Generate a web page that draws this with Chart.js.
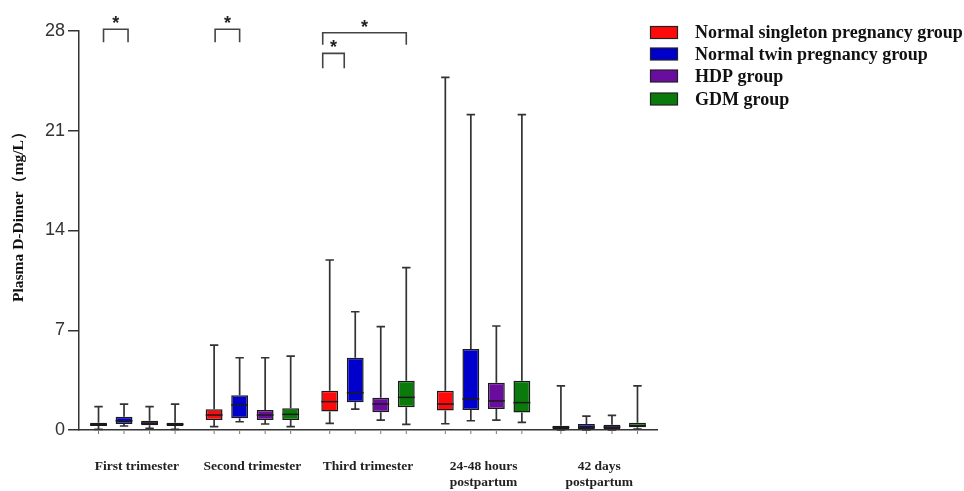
<!DOCTYPE html>
<html><head><meta charset="utf-8">
<script src="https://cdn.jsdelivr.net/npm/chart.js@4.4.1/dist/chart.umd.min.js"></script>
<style>html,body{margin:0;padding:0;background:#fff}#wrap{width:964px;height:491px;position:relative}</style>
</head><body><div id="wrap"><canvas id="c" width="964" height="491"></canvas></div>
<script>
// ---- data ----
const categories = ["First trimester", "Second trimester", "Third trimester", ["24-48 hours", "postpartum"], ["42 days", "postpartum"]];
const groups = ["Normal singleton pregnancy group", "Normal twin pregnancy group", "HDP group", "GDM group"];
const yTicks = [0, 7, 14, 21, 28];

const singletonMin = [0.05, 0.23, 0.47, 0.44, 0.00];
const singletonQ1  = [0.28, 0.70, 1.29, 1.36, 0.07];
const singletonMed = [0.38, 1.05, 1.99, 1.82, 0.18];
const singletonQ3  = [0.51, 1.45, 2.76, 2.76, 0.30];
const singletonMax = [1.64, 5.96, 11.93, 24.75, 3.09];

const twinMin = [0.28, 0.58, 1.47, 0.65, 0.00];
const twinQ1  = [0.42, 0.82, 1.94, 1.40, 0.07];
const twinMed = [0.65, 1.75, 2.62, 2.18, 0.20];
const twinQ3  = [0.93, 2.43, 5.07, 5.68, 0.42];
const twinMax = [1.82, 5.07, 8.30, 22.13, 0.98];

const hdpMin = [0.12, 0.42, 0.70, 0.70, 0.00];
const hdpQ1  = [0.33, 0.70, 1.24, 1.47, 0.07];
const hdpMed = [0.48, 1.05, 1.82, 2.04, 0.20];
const hdpQ3  = [0.65, 1.40, 2.27, 3.32, 0.37];
const hdpMax = [1.64, 5.07, 7.25, 7.30, 1.03];

const gdmMin = [0.05, 0.23, 0.40, 0.54, 0.07];
const gdmQ1  = [0.28, 0.70, 1.59, 1.22, 0.19];
const gdmMed = [0.40, 1.10, 2.29, 1.92, 0.30];
const gdmQ3  = [0.51, 1.52, 3.46, 3.46, 0.51];
const gdmMax = [1.82, 5.19, 11.39, 22.13, 3.09];

// significance marks: category index, group from, group to, bracket level (mg/L scale)
const sigCategory = [0, 1, 2, 2];
const sigFrom     = [0, 0, 0, 0];
const sigTo       = [1, 1, 3, 1];
const sigLevel    = [28.12, 28.12, 27.88, 26.43];

// ---- styles ----
const colors = ["#ff0a0a", "#0000cc", "#6a0d9e", "#0a7a0a"];
const sigStyle = [
  {dxFrom: 5, dxTo: 4, drop: 13},
  {dxFrom: 1, dxTo: 0, drop: 13},
  {dxFrom: -7, dxTo: 0, drop: 12},
  {dxFrom: -7, dxTo: -11, drop: 15}
];

const stats = [
  {min: singletonMin, q1: singletonQ1, med: singletonMed, q3: singletonQ3, max: singletonMax},
  {min: twinMin, q1: twinQ1, med: twinMed, q3: twinQ3, max: twinMax},
  {min: hdpMin, q1: hdpQ1, med: hdpMed, q3: hdpQ3, max: hdpMax},
  {min: gdmMin, q1: gdmQ1, med: gdmMed, q3: gdmQ3, max: gdmMax}
];

const datasets = groups.map((g, k) => ({
  label: g,
  data: categories.map((_, i) => [stats[k].q1[i], stats[k].q3[i]]),
  backgroundColor: colors[k],
  borderColor: "#1a1a1a",
  borderWidth: 1.5,
  borderSkipped: false,
  barPercentage: 0.66,
  categoryPercentage: 0.883
}));

const boxPlugin = {
  id: "boxWhiskers",
  afterDatasetsDraw(chart) {
    const ctx = chart.ctx, y = chart.scales.y;
    ctx.save();
    datasets.forEach((ds, k) => {
      const meta = chart.getDatasetMeta(k);
      meta.data.forEach((el, i) => {
        const x = el.x, w = el.width, cw = w * 0.5;
        const s = stats[k];
        ctx.strokeStyle = "#333";
        ctx.lineWidth = 1.7;
        ctx.beginPath();
        ctx.moveTo(x, y.getPixelForValue(s.q3[i])); ctx.lineTo(x, y.getPixelForValue(s.max[i]));
        ctx.moveTo(x - cw / 2, y.getPixelForValue(s.max[i])); ctx.lineTo(x + cw / 2, y.getPixelForValue(s.max[i]));
        ctx.moveTo(x, y.getPixelForValue(s.q1[i])); ctx.lineTo(x, y.getPixelForValue(s.min[i]));
        ctx.moveTo(x - cw / 2, y.getPixelForValue(s.min[i])); ctx.lineTo(x + cw / 2, y.getPixelForValue(s.min[i]));
        ctx.stroke();
        ctx.strokeStyle = "#1a1a1a";
        ctx.lineWidth = 1.5;
        ctx.beginPath();
        ctx.moveTo(x - w / 2, y.getPixelForValue(s.med[i])); ctx.lineTo(x + w / 2, y.getPixelForValue(s.med[i]));
        ctx.stroke();
        // small tick below axis
        ctx.strokeStyle = "#777";
        ctx.lineWidth = 1;
        ctx.beginPath();
        ctx.moveTo(x, chart.chartArea.bottom + 1); ctx.lineTo(x, chart.chartArea.bottom + 4);
        ctx.stroke();
      });
    });
    ctx.restore();
  }
};

const decoPlugin = {
  id: "deco",
  afterDraw(chart) {
    const ctx = chart.ctx, y = chart.scales.y;
    ctx.save();
    // y-axis title
    ctx.translate(19, 213);
    ctx.rotate(-Math.PI / 2);
    ctx.fillStyle = "#111";
    ctx.font = "bold 15.5px 'Liberation Serif', serif";
    ctx.textAlign = "center";
    ctx.textBaseline = "middle";
    ctx.fillText("Plasma D-Dimer（mg/L）", 0, 0);
    ctx.restore();

    // legend
    ctx.save();
    const rowsY = [32.5, 54, 76, 99];
    groups.forEach((g, k) => {
      ctx.fillStyle = colors[k];
      ctx.fillRect(650.5, rowsY[k] - 6, 27, 12);
      ctx.strokeStyle = "#222";
      ctx.lineWidth = 1.2;
      ctx.strokeRect(650.5, rowsY[k] - 6, 27, 12);
      ctx.fillStyle = "#111";
      ctx.font = "bold 18px 'Liberation Serif', serif";
      ctx.textAlign = "left";
      ctx.textBaseline = "middle";
      ctx.fillText(g, 695, rowsY[k] + 1);
    });
    ctx.restore();

    // significance brackets
    ctx.save();
    sigCategory.forEach((c, j) => {
      const a = chart.getDatasetMeta(sigFrom[j]).data[c];
      const b = chart.getDatasetMeta(sigTo[j]).data[c];
      const st = sigStyle[j];
      const x1 = a.x + st.dxFrom, x2 = b.x + st.dxTo;
      const yy = y.getPixelForValue(sigLevel[j]);
      ctx.strokeStyle = "#444";
      ctx.lineWidth = 1.6;
      ctx.beginPath();
      ctx.moveTo(x1, yy + st.drop); ctx.lineTo(x1, yy); ctx.lineTo(x2, yy); ctx.lineTo(x2, yy + st.drop);
      ctx.stroke();
      ctx.fillStyle = "#222";
      ctx.font = "bold 18px 'Liberation Sans', sans-serif";
      ctx.textAlign = "center";
      ctx.textBaseline = "middle";
      ctx.fillText("*", (x1 + x2) / 2, yy - 5);
    });
    ctx.restore();
  }
};

new Chart(document.getElementById("c"), {
  type: "bar",
  data: {labels: categories, datasets},
  options: {
    responsive: false,
    animation: false,
    layout: {padding: {top: 31, right: 307, left: 0, bottom: 0}},
    plugins: {legend: {display: false}, tooltip: {enabled: false}},
    scales: {
      x: {
        grid: {display: false, drawTicks: false},
        border: {display: true, color: "#333", width: 1.5},
        ticks: {
          font: {family: "'Liberation Serif', serif", size: 13.5, weight: "bold", lineHeight: 1.2},
          color: "#222", padding: 28, maxRotation: 0, autoSkip: false
        },
        afterFit(s) { s.height = 61; }
      },
      y: {
        min: 0, max: 28,
        afterBuildTicks(s) { s.ticks = yTicks.map(v => ({value: v})); },
        grid: {display: true, drawOnChartArea: false, drawTicks: true, tickLength: 11, color: "#333", lineWidth: 1.5},
        border: {display: true, color: "#333", width: 1.5},
        ticks: {font: {family: "'Liberation Sans', Arial, sans-serif", size: 18}, color: "#333", padding: 3},
        afterFit(s) { s.width = 79; }
      }
    }
  },
  plugins: [boxPlugin, decoPlugin]
});
</script></body></html>
